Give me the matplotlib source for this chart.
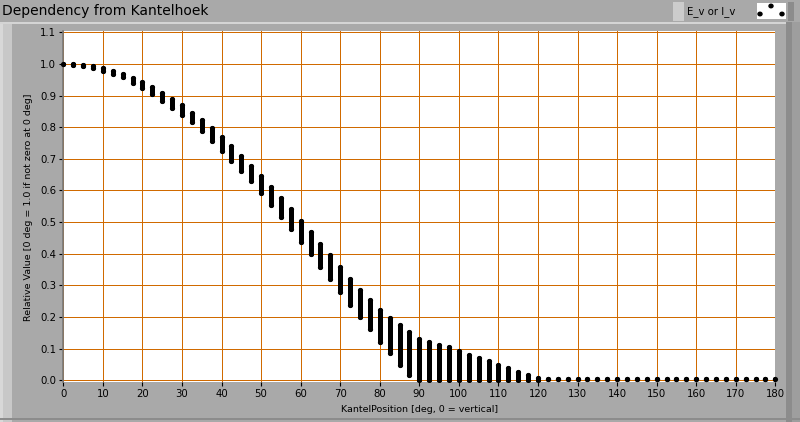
import numpy as np
import matplotlib
matplotlib.use("Agg")
import matplotlib.pyplot as plt
from matplotlib.patches import Rectangle, Ellipse

# Winkel (deg) und Min/Max-Werte pro Winkel (alle C-Ebenen)
ANGLES = [0, 2.5, 5, 7.5, 10, 12.5, 15, 17.5, 20, 22.5, 25, 27.5, 30, 32.5, 35, 37.5,
          40, 42.5, 45, 47.5, 50, 52.5, 55, 57.5, 60, 62.5, 65, 67.5, 70, 72.5, 75, 77.5,
          80, 82.5, 85, 87.5, 90, 92.5, 95, 97.5, 100, 102.5, 105, 107.5, 110, 112.5, 115,
          117.5, 120, 122.5, 125, 127.5, 130, 132.5, 135, 137.5, 140, 142.5, 145, 147.5,
          150, 152.5, 155, 157.5, 160, 162.5, 165, 167.5, 170, 172.5, 175, 177.5, 180]

VAL_MAX = [1.000, 0.999, 0.995, 0.992, 0.987, 0.977, 0.968, 0.955, 0.943, 0.927, 0.908,
           0.889, 0.870, 0.845, 0.822, 0.797, 0.769, 0.741, 0.709, 0.677, 0.646, 0.611,
           0.576, 0.541, 0.504, 0.469, 0.432, 0.395, 0.358, 0.321, 0.285, 0.254, 0.223,
           0.197, 0.175, 0.153, 0.131, 0.121, 0.113, 0.104, 0.094, 0.081, 0.071, 0.062,
           0.049, 0.039, 0.027, 0.018, 0.006] + [0.003] * 24

VAL_MIN = [1.000, 0.998, 0.993, 0.988, 0.979, 0.969, 0.957, 0.941, 0.925, 0.906, 0.884,
           0.862, 0.839, 0.815, 0.787, 0.757, 0.726, 0.694, 0.662, 0.629, 0.593, 0.555,
           0.517, 0.479, 0.437, 0.400, 0.359, 0.321, 0.280, 0.239, 0.201, 0.163, 0.121,
           0.087, 0.049, 0.018] + [0.0] * 13 + [0.003] * 24

X_TICKS = list(range(0, 181, 10))
Y_TICKS = [0.0, 0.1, 0.2, 0.3, 0.4, 0.5, 0.6, 0.7, 0.8, 0.9, 1.0, 1.1]

W, H = 800, 422
PANEL = "#A9A9A9"
GRID = "#D06A00"

fig = plt.figure(figsize=(W / 100, H / 100), dpi=100, facecolor=PANEL)


def px_rect(x0, y0, x1, y1, color):
    # Rechteck in Bildpixeln (y von oben)
    fig.add_artist(Rectangle((x0 / W, 1 - y1 / H), (x1 - x0) / W, (y1 - y0) / H,
                             transform=fig.transFigure, facecolor=color,
                             edgecolor="none", zorder=0))


# Rahmen (LabVIEW-Stil)
px_rect(0, 22, 800, 24, "#D4D4D4")
px_rect(0, 24, 12, 422, "#C8C8C8")
px_rect(0, 24, 3, 422, "#D8D8D8")
px_rect(786, 22, 792, 422, "#8C8C8C")
px_rect(792, 22, 800, 422, "#9E9E9E")
px_rect(0, 418, 800, 420, "#8C8C8C")

# Legende oben rechts
px_rect(673, 2, 684, 21, "#CCCCCC")
px_rect(684, 2, 788, 21, "#A9A9A9")
px_rect(788, 2, 794, 21, "#8C8C8C")
px_rect(757, 3, 786, 19, "#FFFFFF")
fig.text(687 / W, 1 - 11.5 / H, "E_v or I_v", fontsize=7.3, va="center", ha="left")
for cx, cy in [(771, 6), (760, 14), (782, 14)]:
    fig.add_artist(Ellipse((cx / W, 1 - cy / H), 4 / W, 3.5 / H,
                           transform=fig.transFigure, color="black", zorder=3))

fig.text(2 / W, 1 - 11 / H, "Dependency from Kantelhoek", fontsize=10,
         va="center", ha="left")

# Diagrammfläche
ax = fig.add_axes([63.3 / W, 1 - 382 / H, 712 / W, (382 - 31.3) / H])
ax.set_facecolor("white")
ax.set_xlim(0, 180)
ax.set_ylim(-0.0055, 1.103)

ax.set_xticks(X_TICKS)
ax.set_yticks(Y_TICKS)
ax.set_yticklabels([f"{v:.1f}" for v in Y_TICKS])
ax.grid(True, color=GRID, linewidth=0.5, antialiased=False, zorder=0)
ax.set_axisbelow(True)
ax.tick_params(direction="out", length=3, width=0.8, labelsize=7.3, pad=2,
               colors="black")

for side in ["top", "right", "bottom"]:
    ax.spines[side].set_visible(False)
ax.spines["left"].set_color("#7A7A7A")
ax.spines["left"].set_linewidth(1.2)

ax.vlines(ANGLES, VAL_MIN, VAL_MAX, colors="black", linewidth=3.6,
          capstyle="round", zorder=3)
ax.scatter(ANGLES, VAL_MAX, s=14, color="black", zorder=4, clip_on=False,
           linewidths=0)
ax.scatter(ANGLES, VAL_MIN, s=14, color="black", zorder=4, linewidths=0)

fig.text(420 / W, 1 - 409 / H, "KantelPosition [deg, 0 = vertical]", fontsize=6.8,
         ha="center", va="center")
fig.text(29 / W, 1 - 207 / H, "Relative Value [0 deg = 1.0 if not zero at 0 deg]",
         fontsize=6.8, ha="center", va="center", rotation=90)

fig.savefig("out.png", dpi=100, facecolor=PANEL)
